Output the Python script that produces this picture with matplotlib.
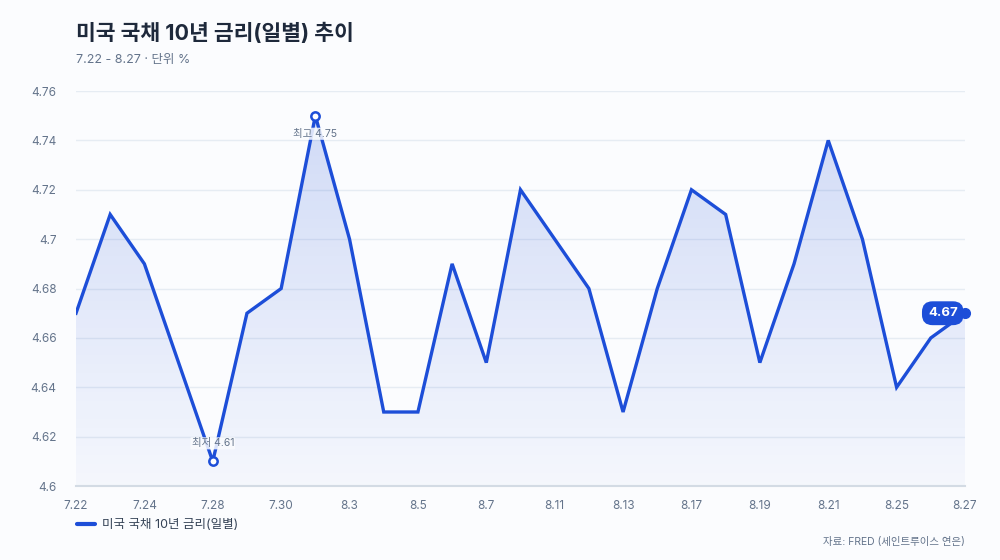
import matplotlib
matplotlib.use("Agg")
import matplotlib.pyplot as plt
import numpy as np
from matplotlib.lines import Line2D

plt.rcParams['font.family'] = ['Inter', 'Noto Sans CJK KR', 'DejaVu Sans']

# data (trading days)
dates = ['7.22', '7.23', '7.24', '7.25', '7.28', '7.29', '7.30', '7.31', '8.3',
         '8.4', '8.5', '8.6', '8.7', '8.8', '8.11', '8.12', '8.13', '8.14',
         '8.17', '8.18', '8.19', '8.20', '8.21', '8.22', '8.25', '8.26', '8.27']
rates = [4.67, 4.71, 4.69, 4.65, 4.61, 4.67, 4.68, 4.75, 4.70,
         4.63, 4.63, 4.69, 4.65, 4.72, 4.70, 4.68, 4.63, 4.68,
         4.72, 4.71, 4.65, 4.69, 4.74, 4.70, 4.64, 4.66, 4.67]
y_ticks = [4.6, 4.62, 4.64, 4.66, 4.68, 4.7, 4.72, 4.74, 4.76]
y_tick_labels = ['4.6', '4.62', '4.64', '4.66', '4.68', '4.7', '4.72', '4.74', '4.76']

series_name = '미국 국채 10년 금리(일별)'
title = '미국 국채 10년 금리(일별) 추이'
subtitle = '7.22 - 8.27 · 단위 %'
source = '자료: FRED (세인트루이스 연은)'

BLUE = '#1d4ed8'
BG = '#fbfcfe'
GRAY = '#64748b'
DARK = '#1e293b'

x = np.arange(len(rates))
y = np.array(rates)

fig = plt.figure(figsize=(10, 5.6), dpi=100, facecolor=BG)
ax = fig.add_axes([0.076, 0.132, 0.889, 0.7055])
ax.set_facecolor(BG)

# gradient fill under the line
grad = np.linspace(0, 1, 256).reshape(-1, 1)
cmap = matplotlib.colors.LinearSegmentedColormap.from_list(
    'g', [(0.114, 0.306, 0.847, 0.03), (0.114, 0.306, 0.847, 0.19)])
poly = ax.fill_between(x, y, 4.6, color='none', lw=0)
img = ax.imshow(grad, extent=[0, len(rates) - 1, 4.6, max(rates)], origin='lower',
                aspect='auto', cmap=cmap, zorder=1)
img.set_clip_path(poly.get_paths()[0], transform=ax.transData)
ax.set_xlim(0, len(rates) - 1)
ax.set_ylim(4.6, 4.76)

ax.plot(x, y, color=BLUE, lw=2.4, zorder=3, solid_joinstyle='miter')

# grid
for t in y_ticks[1:]:
    ax.axhline(t, color='#e6ecf3', lw=1, zorder=0)
for s in ['top', 'right', 'left']:
    ax.spines[s].set_visible(False)
ax.spines['bottom'].set_color('#d3dbe4')
ax.spines['bottom'].set_linewidth(1.5)

ax.set_yticks(y_ticks)
ax.set_yticklabels(y_tick_labels)
ax.set_xticks(x[::2])
ax.set_xticklabels(dates[::2])
ax.tick_params(length=0, colors=GRAY, labelsize=8.5)
ax.tick_params(axis='x', pad=10)
ax.tick_params(axis='y', pad=14)

# max / min markers
imax = int(np.argmax(y))
imin = int(np.argmin(y))
halo = dict(boxstyle='round,pad=0.1', fc=BG, ec='none', alpha=0.85)
for i, lab, off in [(imax, '최고', -13), (imin, '최저', 13)]:
    ax.plot(x[i], y[i], 'o', ms=6, mfc='white', mec=BLUE, mew=1.8, zorder=5, clip_on=False)
    ax.annotate(f'{lab} {y[i]:.2f}', (x[i], y[i]), xytext=(0, off),
                textcoords='offset points', ha='center', va='center',
                fontsize=7.5, color=GRAY, zorder=4, bbox=halo)

# last value pill
ax.plot(x[-1], y[-1], 'o', ms=7, color=BLUE, zorder=5, clip_on=False)
ax.annotate(f'{y[-1]:.2f}', (x[-1], y[-1]), xytext=(-16, 0),
            textcoords='offset points', ha='center', va='center',
            fontsize=9.5, fontweight='bold', color='white', zorder=6,
            bbox=dict(boxstyle='round,pad=0.45,rounding_size=0.8', fc=BLUE, ec='none'))

# texts
fig.text(0.076, 0.94, title, fontsize=15.5, fontweight='bold', color=DARK, va='center')
fig.text(0.076, 0.892, subtitle, fontsize=9, color=GRAY, va='center')
fig.text(0.965, 0.033, source, fontsize=7.5, color=GRAY, ha='right', va='center')

handle = Line2D([], [], color=BLUE, lw=3, solid_capstyle='round')
fig.legend([handle], [series_name], loc='center left', bbox_to_anchor=(0.066, 0.062),
           frameon=False, fontsize=9, handlelength=1.4, handletextpad=0.6,
           labelcolor='#334155')

fig.savefig('out.png', dpi=100, facecolor=BG)
